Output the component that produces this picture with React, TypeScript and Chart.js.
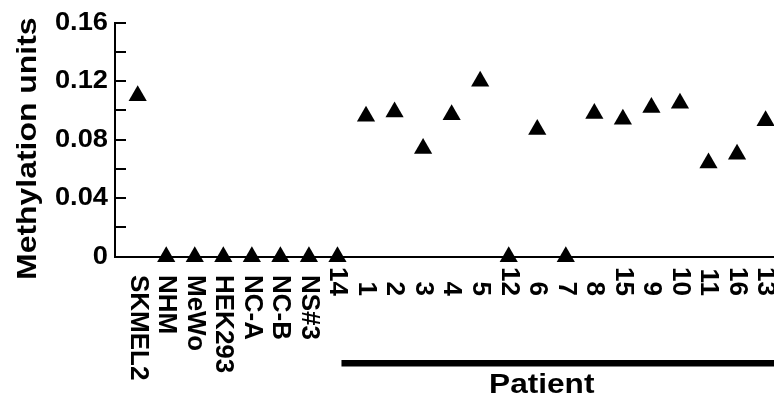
import React, { useEffect, useRef } from "react";
import { Chart, registerables } from "chart.js";

Chart.register(...registerables);

// ---- data ----
const controlLabels = ["SKMEL2", "NHM", "MeWo", "HEK293", "NC-A", "NC-B", "NS#3"];
const controlValues = [0.11, 0, 0, 0, 0, 0, 0];
const patientLabels = ["14", "1", "2", "3", "4", "5", "12", "6", "7", "8", "15", "9", "10", "11", "16", "13"];
const patientValues = [0, 0.096, 0.099, 0.074, 0.097, 0.12, 0, 0.087, 0, 0.098, 0.094, 0.102, 0.105, 0.064, 0.07, 0.093];
const yLabelValues = [0, 0.04, 0.08, 0.12, 0.16];
const yLabelTexts = ["0", "0.04", "0.08", "0.12", "0.16"];
const yTitle = "Methylation units";
const groupTitle = "Patient";

const FONT = '"Liberation Sans", Arial, Helvetica, sans-serif';

function drawText(
  ctx: CanvasRenderingContext2D,
  text: string,
  x: number,
  y: number,
  rot: number,
  size: number,
  stretch: number,
  align: CanvasTextAlign,
  baseline: CanvasTextBaseline
) {
  ctx.save();
  ctx.translate(x, y);
  ctx.rotate(rot);
  ctx.scale(stretch, 1);
  ctx.font = `bold ${size}px ${FONT}`;
  ctx.fillStyle = "#000";
  ctx.textAlign = align;
  ctx.textBaseline = baseline;
  ctx.fillText(text, 0, 0);
  ctx.restore();
}

const decorPlugin = {
  id: "decor",
  afterDraw(chart: any) {
    const ctx: CanvasRenderingContext2D = chart.ctx;
    const xs = chart.scales.x;
    const ys = chart.scales.y;
    const area = chart.chartArea;

    // inward tick marks
    ctx.save();
    ctx.strokeStyle = "#000";
    ctx.lineWidth = 2;
    ys.ticks.forEach((t: any) => {
      const y = Math.round(ys.getPixelForValue(t.value));
      ctx.beginPath();
      ctx.moveTo(area.left, y);
      ctx.lineTo(area.left + 11, y);
      ctx.stroke();
    });
    ctx.restore();

    // y tick labels
    yLabelValues.forEach((v, i) => {
      const y = ys.getPixelForValue(v);
      drawText(ctx, yLabelTexts[i], area.left - 7, y, 0, 25, 1.09, "right", "middle");
    });

    // y title
    drawText(ctx, yTitle, 36, (area.top + area.bottom) / 2 + 9, -Math.PI / 2, 28, 1.14, "center", "alphabetic");

    // x category labels
    controlLabels.forEach((lab, i) => {
      const x = xs.getPixelForValue(i);
      drawText(ctx, lab, x, 275, Math.PI / 2, 26, 1.0, "left", "middle");
    });
    const n0 = controlLabels.length;
    patientLabels.forEach((lab, i) => {
      const x = xs.getPixelForValue(n0 + i);
      drawText(ctx, lab, x, 296, Math.PI / 2, 26, 1.0, "right", "middle");
    });

    // patient group bar
    const barStart = xs.getPixelForValue(n0) + 4;
    ctx.save();
    ctx.fillStyle = "#000";
    ctx.fillRect(barStart, 360, chart.width - barStart, 6.5);
    ctx.restore();

    // group title
    const mid = (barStart + chart.width) / 2 - 16;
    drawText(ctx, groupTitle, mid, 393, 0, 27, 1.17, "center", "alphabetic");
  },
};

export default function App() {
  const ref = useRef<HTMLCanvasElement>(null);

  useEffect(() => {
    document.body.style.margin = "0";
    const canvas = ref.current;
    if (!canvas) return;
    const points = [...controlValues, ...patientValues].map((v, i) => ({ x: i, y: v }));
    const chart = new Chart(canvas, {
      type: "scatter",
      data: {
        datasets: [
          {
            data: points,
            pointStyle: "triangle",
            pointRadius: 10.5,
            pointHoverRadius: 10.5,
            pointBackgroundColor: "#000",
            pointBorderColor: "#000",
            pointBorderWidth: 0,
            showLine: false,
            clip: false as any,
          },
        ],
      },
      options: {
        animation: false,
        responsive: false,
        devicePixelRatio: 1,
        layout: { autoPadding: false, padding: { top: 22.7, left: 0, right: 0, bottom: 0 } },
        plugins: { legend: { display: false }, tooltip: { enabled: false } },
        events: [],
        scales: {
          x: {
            type: "linear",
            bounds: "data",
            min: -0.795,
            max: 22.295,
            grid: { display: false },
            border: { display: true, color: "#000", width: 2 },
            ticks: { display: false },
            afterFit: (s: any) => {
              s.height = 148.3;
            },
          },
          y: {
            type: "linear",
            bounds: "data",
            min: 0,
            max: 0.16,
            grid: { display: false },
            border: { display: true, color: "#000", width: 2 },
            ticks: { display: false, stepSize: 0.02 },
            afterFit: (s: any) => {
              s.width = 115;
            },
          },
        },
      },
      plugins: [decorPlugin],
    });
    return () => chart.destroy();
  }, []);

  return <canvas ref={ref} width={774} height={405} style={{ display: "block", width: 774, height: 405 }} />;
}
